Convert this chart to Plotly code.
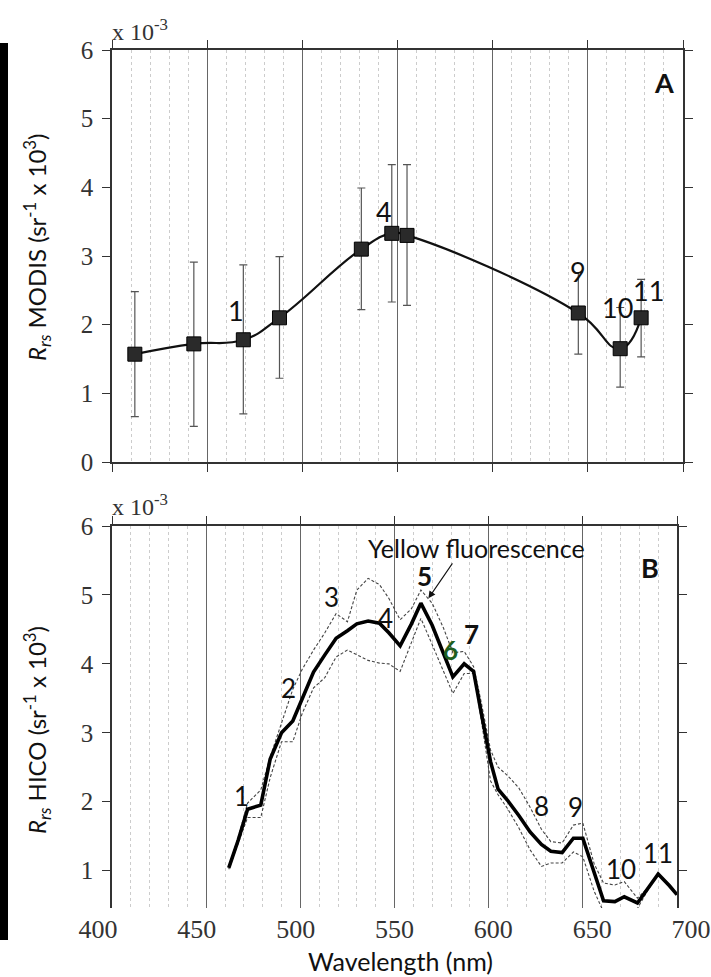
import plotly.graph_objects as go

W, H = 711, 977

# ---------------- Panel A: MODIS ----------------
modis_wl = [412, 443, 469, 488, 531, 547, 555, 645, 667, 678]
modis_rrs = [1.57, 1.72, 1.78, 2.10, 3.10, 3.33, 3.30, 2.17, 1.65, 2.10]
modis_hi = [2.48, 2.91, 2.87, 2.99, 3.99, 4.33, 4.33, 2.76, 2.25, 2.66]
modis_lo = [0.66, 0.52, 0.70, 1.22, 2.22, 2.33, 2.28, 1.57, 1.09, 1.53]
modis_labels = ["1", "4", "9", "10", "11"]
modis_label_x = [465, 543, 645, 665.5, 682]
modis_label_y = [2.2, 3.65, 2.77, 2.25, 2.5]

# ---------------- Panel B: HICO ----------------
hico_wl = [462, 467, 472, 479, 484, 490, 496, 501, 507, 513, 519, 525, 530, 536,
           542, 547, 553, 559, 564, 570, 576, 581, 587, 592, 596, 601, 605, 610,
           616, 622, 628, 633, 639, 645, 650, 656, 661, 667, 672, 679, 685, 690,
           696, 700]
hico_mean = [1.04, 1.44, 1.89, 1.95, 2.62, 3.00, 3.17, 3.50, 3.88, 4.13, 4.37, 4.48,
             4.58, 4.62, 4.59, 4.45, 4.26, 4.58, 4.88, 4.56, 4.15, 3.81, 4.00, 3.89,
             3.30, 2.58, 2.18, 2.02, 1.80, 1.56, 1.38, 1.28, 1.26, 1.47, 1.47, 0.98,
             0.56, 0.55, 0.62, 0.53, 0.75, 0.95, 0.78, 0.65]
hico_upper = [1.06, 1.48, 1.98, 2.17, 2.65, 3.15, 3.63, 3.92, 4.20, 4.45, 4.73, 4.61,
              5.07, 5.24, 5.15, 4.95, 4.64, 4.80, 5.07, 4.88, 4.52, 4.16, 4.18, 3.96,
              3.45, 2.75, 2.50, 2.38, 2.20, 1.92, 1.60, 1.42, 1.40, 1.66, 1.69, 1.10,
              0.82, 0.79, 0.84, 0.60, 0.76, 0.96, 0.79, 0.66]
hico_lower = [1.02, 1.40, 1.77, 1.77, 2.35, 2.87, 2.87, 3.28, 3.65, 3.80, 4.10, 4.20,
              4.13, 4.05, 4.01, 4.00, 3.89, 4.30, 4.66, 4.28, 3.90, 3.57, 3.86, 3.86,
              3.20, 2.30, 2.10, 1.90, 1.62, 1.30, 1.06, 1.11, 1.11, 1.27, 1.20, 0.70,
              0.40, 0.30, 0.30, 0.45, 0.74, 0.94, 0.77, 0.64]
hico_labels = ["1", "2", "3", "4", "<b>5</b>", "<b>6</b>", "<b>7</b>", "8", "9", "10", "11"]
hico_label_x = [468.9, 493.6, 516.6, 545, 565.7, 579.5, 591, 628.2, 645.9, 670.3, 690.1]
hico_label_y = [2.08, 3.65, 4.97, 4.66, 5.27, 4.20, 4.44, 1.93, 1.92, 1.02, 1.26]
hico_label_color = ["#111"] * 5 + ["#1f5f1f"] + ["#111"] * 5

x_ticks = [400, 450, 500, 550, 600, 650, 700]
y_ticks = [0, 1, 2, 3, 4, 5, 6]


def px_x(p):
    return p / W


def px_y(p):
    return (H - p) / H


fig = go.Figure()

# Panel A
fig.add_trace(go.Scatter(
    x=modis_wl, y=modis_rrs, mode="lines+markers",
    line=dict(color="#111", width=2.2, shape="spline", smoothing=1.3),
    marker=dict(symbol="square", size=14, color="#2a2a2a", line=dict(color="#000", width=1)),
    error_y=dict(type="data", symmetric=False,
                 array=[h - v for h, v in zip(modis_hi, modis_rrs)],
                 arrayminus=[v - l for v, l in zip(modis_rrs, modis_lo)],
                 color="#555", thickness=1.2, width=4),
    xaxis="x", yaxis="y", showlegend=False, hoverinfo="skip"))

# Panel B
fig.add_trace(go.Scatter(x=hico_wl, y=hico_upper, mode="lines",
                         line=dict(color="#444", width=1.1, dash="3px,2px"),
                         xaxis="x2", yaxis="y2", showlegend=False, hoverinfo="skip"))
fig.add_trace(go.Scatter(x=hico_wl, y=hico_lower, mode="lines",
                         line=dict(color="#444", width=1.1, dash="3px,2px"),
                         xaxis="x2", yaxis="y2", showlegend=False, hoverinfo="skip"))
fig.add_trace(go.Scatter(x=hico_wl, y=hico_mean, mode="lines",
                         line=dict(color="#000", width=3.6),
                         xaxis="x2", yaxis="y2", showlegend=False, hoverinfo="skip"))
# empty traces so the label axis and the top-tick axis are drawn
fig.add_trace(go.Scatter(x=[], y=[], xaxis="x3", yaxis="y2", showlegend=False, hoverinfo="skip"))
fig.add_trace(go.Scatter(x=[], y=[], xaxis="x4", yaxis="y2", showlegend=False, hoverinfo="skip"))

serif = "Liberation Serif"
sans = "Lato"

dom_a_x = [px_x(112), px_x(683)]
dom_a_y = [px_y(462), px_y(50)]
dom_b_x = [px_x(112), px_x(677)]
dom_b_y = [px_y(908), px_y(526)]

common_grid = dict(showgrid=True, gridcolor="#666", gridwidth=1,
                   minor=dict(dtick=10, showgrid=True, gridcolor="#cccccc",
                              griddash="dot", gridwidth=1, ticks=""))

fig.update_layout(
    width=W, height=H, margin=dict(l=0, r=0, t=0, b=0, autoexpand=False),
    paper_bgcolor="white", plot_bgcolor="rgba(0,0,0,0)",
    xaxis=dict(domain=dom_a_x, anchor="y", range=[400, 700], tickvals=x_ticks,
               showticklabels=False, showline=True, linecolor="#333", linewidth=1.5,
               mirror="ticks", ticks="outside", ticklen=8, tickcolor="#333", tickwidth=1.2,
               zeroline=False, automargin=False, **common_grid),
    yaxis=dict(domain=dom_a_y, anchor="x", range=[0, 6], tickvals=y_ticks,
               showgrid=False, zeroline=False, showline=True, linecolor="#333", linewidth=1.5,
               mirror="ticks", ticks="outside", ticklen=8, tickcolor="#333", tickwidth=1.2,
               tickfont=dict(family=serif, size=25, color="#333"), ticklabelstandoff=4,
               automargin=False),
    xaxis2=dict(domain=dom_b_x, anchor="y2", range=[400, 700], tickvals=x_ticks,
                showticklabels=False, showline=False, ticks="", zeroline=False,
                automargin=False, **common_grid),
    xaxis4=dict(overlaying="x2", anchor="y2", side="top", range=[400, 700], tickvals=x_ticks,
                showticklabels=False, showline=True, linecolor="#333", linewidth=1.5,
                ticks="outside", ticklen=8, tickcolor="#333", tickwidth=1.2,
                showgrid=False, zeroline=False, automargin=False),
    xaxis3=dict(domain=[px_x(98), px_x(691)], anchor="y2", range=[400, 700], tickvals=x_ticks,
                showticklabels=True, showline=False, ticks="", ticklen=0, showgrid=False,
                zeroline=False, tickfont=dict(family=serif, size=26, color="#333"),
                ticklabelstandoff=3, ticklabeloverflow="allow", automargin=False),
    yaxis2=dict(domain=dom_b_y, anchor="x2", range=[0.457, 6], tickvals=y_ticks[1:],
                showgrid=False, zeroline=False, showline=True, linecolor="#333", linewidth=1.5,
                mirror="ticks", ticks="outside", ticklen=8, tickcolor="#333", tickwidth=1.2,
                tickfont=dict(family=serif, size=25, color="#333"), ticklabelstandoff=4,
                automargin=False),
)

ann = []
for t, x, y in zip(modis_labels, modis_label_x, modis_label_y):
    ann.append(dict(text=t, x=x, y=y, xref="x", yref="y", showarrow=False,
                    font=dict(family=sans, size=27, color="#111")))
for t, x, y, c in zip(hico_labels, hico_label_x, hico_label_y, hico_label_color):
    ann.append(dict(text=t, x=x, y=y, xref="x2", yref="y2", showarrow=False,
                    font=dict(family=sans, size=26, color=c)))

ann += [
    dict(text="<b>A</b>", x=690, y=5.53, xref="x", yref="y", showarrow=False,
         font=dict(family=sans, size=27, color="#111")),
    dict(text="<b>B</b>", x=685.7, y=5.40, xref="x2", yref="y2", showarrow=False,
         font=dict(family=sans, size=27, color="#111")),
    dict(text="Yellow fluorescence", x=593.7, y=5.68, xref="x2", yref="y2", showarrow=False,
         font=dict(family=sans, size=25, color="#111")),
    dict(text="", x=568, y=4.95, ax=581.3, ay=5.48, xref="x2", yref="y2",
         axref="x2", ayref="y2", showarrow=True, arrowhead=2, arrowsize=1.3,
         arrowwidth=1.1, arrowcolor="#111"),
    dict(text="x 10<sup>-3</sup>", x=px_x(110), y=px_y(47), xref="paper", yref="paper",
         xanchor="left", yanchor="bottom", showarrow=False,
         font=dict(family=serif, size=24, color="#333")),
    dict(text="x 10<sup>-3</sup>", x=px_x(110), y=px_y(522), xref="paper", yref="paper",
         xanchor="left", yanchor="bottom", showarrow=False,
         font=dict(family=serif, size=24, color="#333")),
    dict(text="<i>R<sub>rs</sub></i> MODIS (sr<sup>-1</sup> x 10<sup>3</sup>)",
         x=px_x(37), y=px_y(247), xref="paper", yref="paper", textangle=-90,
         xanchor="center", yanchor="middle",
         showarrow=False, font=dict(family=sans, size=24, color="#111")),
    dict(text="<i>R<sub>rs</sub></i> HICO (sr<sup>-1</sup> x 10<sup>3</sup>)",
         x=px_x(37), y=px_y(730), xref="paper", yref="paper", textangle=-90,
         xanchor="center", yanchor="middle",
         showarrow=False, font=dict(family=sans, size=24, color="#111")),
    dict(text="Wavelength (nm)", x=px_x(400), y=px_y(961), xref="paper", yref="paper",
         xanchor="center", yanchor="middle",
         showarrow=False, font=dict(family=sans, size=25, color="#111")),
]
fig.update_layout(annotations=ann)

fig.add_shape(type="rect", xref="paper", yref="paper",
              x0=0, x1=px_x(8), y0=px_y(940), y1=px_y(43),
              fillcolor="black", line=dict(width=0), layer="above")

fig.write_html("out.html")
